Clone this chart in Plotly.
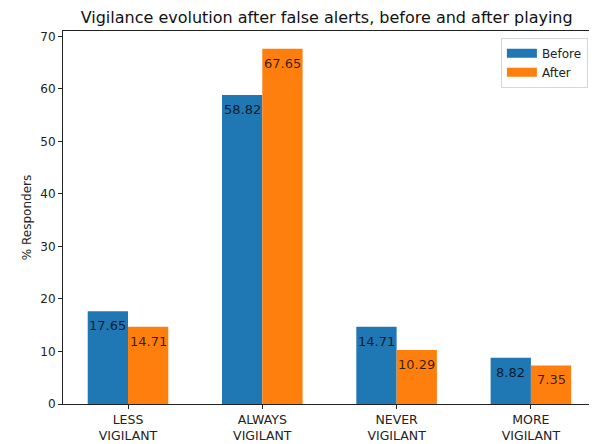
import plotly.graph_objects as go

categories = ["LESS<br>VIGILANT", "ALWAYS<br>VIGILANT", "NEVER<br>VIGILANT", "MORE<br>VIGILANT"]
before = [17.65, 58.82, 14.71, 8.82]
after = [14.71, 67.65, 10.29, 7.35]
yticks = [0, 10, 20, 30, 40, 50, 60, 70]

W = 0.3
idx = list(range(len(categories)))
xb = [i - W / 2 for i in idx]
xa = [i + W / 2 for i in idx]
BLUE, ORANGE = "#1f77b4", "#ff7f0e"

font = "DejaVu Sans, sans-serif"
fig = go.Figure()
fig.add_trace(go.Bar(x=xb, y=before, width=W, name="Before", marker_color=BLUE,
                     marker_line_width=0, showlegend=False))
fig.add_trace(go.Bar(x=xa, y=after, width=W, name="After", marker_color=ORANGE,
                     marker_line_width=0, showlegend=False))
# legend entries (matplotlib-like wide patches)
for nm, col in (("Before", BLUE), ("After", ORANGE)):
    fig.add_trace(go.Scatter(x=[None], y=[None], mode="lines", name=nm,
                             line=dict(color=col, width=9)))

for xs, ys in ((xb, before), (xa, after)):
    for x, y in zip(xs, ys):
        fig.add_annotation(x=x, y=y, text=f"{y:.2f}", showarrow=False, yanchor="top",
                           yshift=-5, font=dict(family=font, size=13, color="rgba(0,0,0,0.78)"))

# page body has an 8px default margin; size the figure to fit the 597x444 window
fig.update_layout(
    width=589, height=436,
    margin=dict(l=55, r=7, t=23, b=40),
    paper_bgcolor="white", plot_bgcolor="white",
    barmode="overlay",
    title=dict(text="Vigilance evolution after false alerts, before and after playing",
               x=0.541, xanchor="center", y=0.992, yanchor="top",
               font=dict(family=font, size=16, color="#111")),
    font=dict(family=font, size=12, color="#222"),
    showlegend=True,
    legend=dict(x=0.996, xanchor="right", y=0.982, yanchor="top",
                bordercolor="#d6d6d6", borderwidth=1, bgcolor="rgba(255,255,255,0.8)",
                font=dict(family=font, size=12, color="#222"),
                tracegroupgap=0),
)
fig.update_xaxes(range=[-0.484, 3.44], tickmode="array", tickvals=idx, ticktext=categories,
                 showline=True, linecolor="#222", linewidth=1, mirror=True, automargin=False,
                 ticks="outside", ticklen=4, tickcolor="#222", showgrid=False, zeroline=False,
                 tickfont=dict(family=font, size=12.5, color="#222"))
fig.update_yaxes(range=[0, 71.03], tickmode="array", tickvals=yticks,
                 showline=True, linecolor="#222", linewidth=1, mirror=True, automargin=False,
                 ticks="outside", ticklen=4, tickcolor="#222", showgrid=False, zeroline=False,
                 title=dict(text="% Responders", standoff=6, font=dict(family=font, size=12, color="#222")),
                 tickfont=dict(family=font, size=12, color="#222"))

fig.write_html("out.html")
